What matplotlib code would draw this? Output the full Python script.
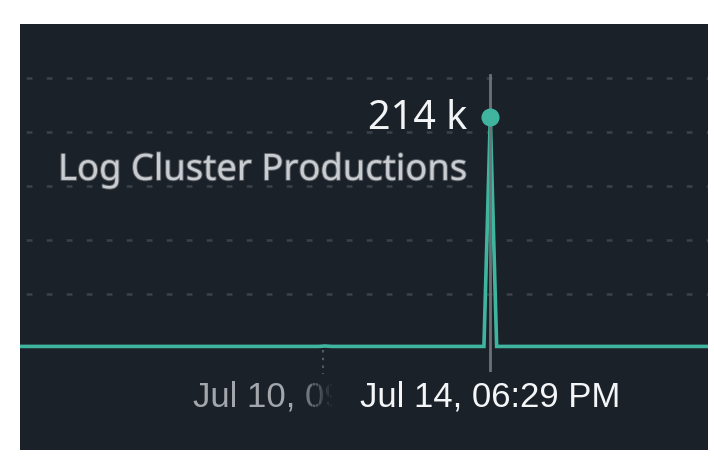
import matplotlib
matplotlib.use("Agg")
import matplotlib.pyplot as plt
import matplotlib.patheffects as pe
from matplotlib.patches import Rectangle
import matplotlib.dates as mdates
import pandas as pd

# data
times = ["2023-07-02 06:29", "2023-07-10 06:29", "2023-07-10 10:29", "2023-07-10 14:29",
         "2023-07-14 14:29", "2023-07-14 18:29", "2023-07-14 22:29", "2023-07-20 10:29"]
values = [1.5e3, 1.5e3, 1.9e3, 1.5e3, 1.5e3, 214e3, 1.5e3, 1.5e3]
series_name = "Log Cluster Productions"
peak_label = "214 k"
hover_time = "2023-07-14 18:29"
hover_label = "Jul 14, 06:29 PM"
tick_time = "2023-07-10 09:00"
tick_label = "Jul 10, 09:00 AM"
grid_values = [50e3, 100e3, 150e3, 200e3, 250e3]

BG = "#1b2128"
TEAL = "#3fb5a0"
GRID = "#3b4249"

t = pd.to_datetime(times)
fig = plt.figure(figsize=(7.14, 4.59), dpi=100)
fig.patch.set_facecolor("white")
ax = fig.add_axes([20 / 714, 9 / 459, 688 / 714, 426 / 459])
ax.set_facecolor(BG)
for s in ax.spines.values():
    s.set_visible(False)
ax.set_xticks([])
ax.set_yticks([])

ax.set_xlim(pd.Timestamp("2023-07-02 10:30"), pd.Timestamp("2023-07-20 11:30"))
ax.set_ylim(-94.4e3, 300e3)

for g in grid_values:
    ax.axhline(g, color=GRID, lw=1.8, ls=(5.5, (2.3, 5.7)), zorder=1)

ht = pd.Timestamp(hover_time)
tt = pd.Timestamp(tick_time)
xt = ax.get_xaxis_transform()

# x tick mark (dotted) and label
ax.plot([tt, tt], [-2e3, -24e3], color="#555b61", lw=1.5, ls=(0, (1.2, 2.5)), zorder=1)
ax.text(tt, 0.103, tick_label, transform=xt, ha="center",
        va="baseline", fontsize=25, color="#a3a7ab", family="Liberation Sans", zorder=2)

# fade of the axis label where the hover label covers it
h_per_px = 1 / 1.574
n_fade = 14
step = 2.8
for i in range(n_fade):
    x0 = mdates.date2num(tt + pd.Timedelta(hours=h_per_px * (-27 + step * i)))
    w = (step + 0.5) * h_per_px / 24
    ax.add_patch(Rectangle((x0, 0.05), w, 0.12, transform=xt, facecolor=BG,
                           edgecolor="none", alpha=(i + 1) / n_fade, zorder=2.5))
x0 = mdates.date2num(tt + pd.Timedelta(hours=h_per_px * (-27 + step * n_fade)))
ax.add_patch(Rectangle((x0, 0.05), 30 * h_per_px / 24, 0.12, transform=xt,
                       facecolor=BG, edgecolor="none", zorder=2.5))

# series line
ax.plot(t, values, color=TEAL, lw=2.6, zorder=3, solid_joinstyle="miter")

# crosshair
ax.plot([ht, ht], [253e3, -22e3], color="#6c7176", lw=2, zorder=4)
ax.plot([ht], [214e3], "o", ms=12, color=TEAL, mec=TEAL, zorder=5)

ax.annotate(peak_label, (ht, 214e3), xytext=(-16.6, -8.6), textcoords="offset points",
            ha="right", va="baseline", fontsize=28.5, color="#f2f4f5",
            family="Noto Sans", fontweight="medium", zorder=6)

ax.text(0.0552, 0.634, series_name, transform=ax.transAxes, ha="left", va="baseline",
        fontsize=26.2, color="#c9cdd1", family="Noto Sans", zorder=6,
        path_effects=[pe.withStroke(linewidth=1.4, foreground="#5a5f64")])

# hover time label covering the axis label
ax.text(ht, 0.103, hover_label, transform=xt, ha="center",
        va="baseline", fontsize=25, color="#f4f5f6", family="Liberation Sans", zorder=7,
        bbox=dict(boxstyle="square,pad=0.22", facecolor=BG, edgecolor="none"))

fig.savefig("out.png", dpi=100, facecolor=fig.get_facecolor())
